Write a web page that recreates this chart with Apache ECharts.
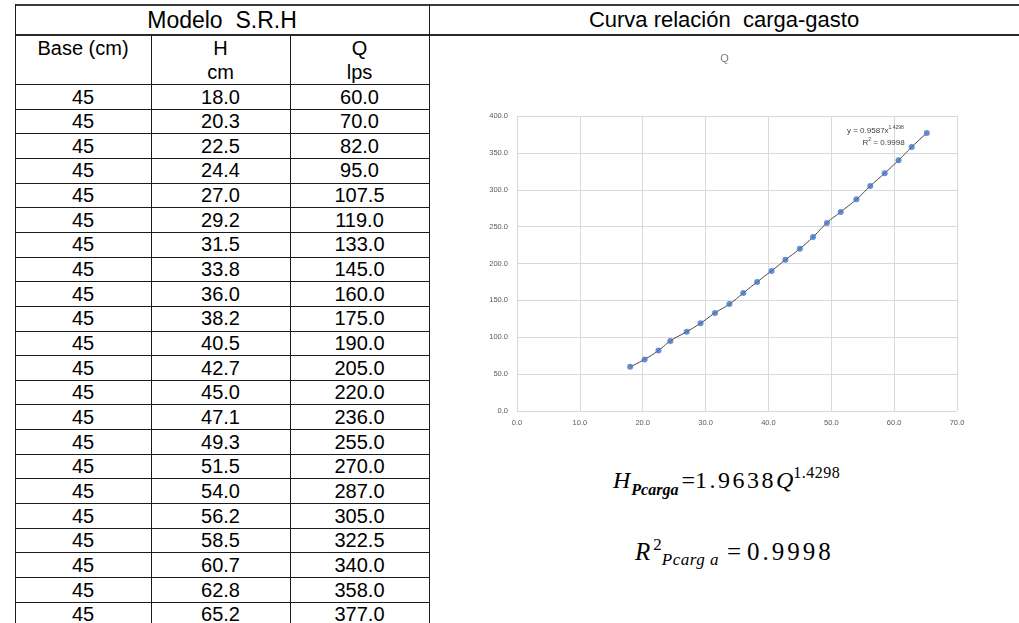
<!DOCTYPE html>
<html>
<head>
<meta charset="utf-8">
<script src="https://cdn.jsdelivr.net/npm/echarts@6/dist/echarts.min.js"></script>
<style>
html,body{margin:0;padding:0;background:#fff;}
body{width:1019px;height:623px;overflow:hidden;position:relative;font-family:"Liberation Sans",Arial,sans-serif;color:#000;}
.ln{position:absolute;background:#1a1a1a;}
.cell{position:absolute;text-align:center;font-size:20px;line-height:24px;white-space:pre;}
.serif{position:absolute;font-family:"Liberation Serif","Times New Roman",serif;white-space:nowrap;color:#000;}
</style>
</head>
<body>
<div id="page"></div>
<div id="chart" style="position:absolute;left:430px;top:37px;width:589px;height:420px"></div>

<div class="serif" style="left:613px;top:468px;font-size:24px;line-height:24px">
<i>H</i><i style="font-size:16px;font-weight:bold;position:relative;top:7px;margin-left:1px">Pcarga</i><span style="margin-left:3px">=</span><span style="letter-spacing:2.5px">1.9638</span><i>Q</i><span style="font-size:16px;position:relative;top:-10px;letter-spacing:0.5px">1.4298</span>
</div>
<div class="serif" style="left:635px;top:540px;font-size:25px;line-height:24px">
<i>R</i><span style="font-size:17px;position:relative;top:-10px;margin-left:3px">2</span><i style="font-size:17px;position:relative;top:5px;letter-spacing:0.5px">Pcarg a</i><span style="margin-left:8px">=</span><span style="margin-left:6px;letter-spacing:3px">0.9998</span>
</div>

<script>
// Modelo S.R.H
const baseCm = [45,45,45,45,45,45,45,45,45,45,45,45,45,45,45,45,45,45,45,45,45,45]
const hCm = [18.0,20.3,22.5,24.4,27.0,29.2,31.5,33.8,36.0,38.2,40.5,42.7,45.0,47.1,49.3,51.5,54.0,56.2,58.5,60.7,62.8,65.2]
const qLps = [60.0,70.0,82.0,95.0,107.5,119.0,133.0,145.0,160.0,175.0,190.0,205.0,220.0,236.0,255.0,270.0,287.0,305.0,322.5,340.0,358.0,377.0]
const xTicks = [0,10,20,30,40,50,60,70]
const yTicks = [0,50,100,150,200,250,300,350,400]

// tabla a la izquierda
const page = document.getElementById('page')
function line(x, y, w, h, color) {
    const d = document.createElement('div')
    d.className = 'ln'
    d.style.cssText = `left:${x}px;top:${y}px;width:${w}px;height:${h}px;` + (color ? `background:${color};` : '')
    page.appendChild(d)
}
function cell(x, y, w, txt, size) {
    const d = document.createElement('div')
    d.className = 'cell'
    d.style.cssText = `left:${x}px;top:${y}px;width:${w}px;` + (size ? `font-size:${size}px;` : '')
    d.textContent = txt
    page.appendChild(d)
}
const cols = [15, 151, 290, 429]
const rowTop = 84, rowH = 24.65

line(15, 4, 1004, 2, '#3a3a3a')
line(15, 34, 1004, 2, '#2a2a2a')
line(15, 4, 1, 619)
line(151, 35, 1, 588)
line(290, 35, 1, 588)
line(429, 4, 1, 619)
for (let i = 0; i <= baseCm.length; i++) line(15, Math.round(rowTop + i * rowH), 414, 1)

cell(15, 8, 414, 'Modelo  S.R.H', 23)
cell(429, 8, 590, 'Curva relación  carga-gasto', 22)
cell(15, 36, 136, 'Base (cm)')
cell(151, 36, 139, 'H\ncm')
cell(290, 36, 139, 'Q\nlps')
baseCm.forEach((b, i) => {
    const y = rowTop + i * rowH + 0.5
    cell(cols[0], y, 136, String(b))
    cell(cols[1], y, 139, hCm[i].toFixed(1))
    cell(cols[2], y, 139, qLps[i].toFixed(1))
})

// grafica
const pts = hCm.map((h, i) => [h, qLps[i]])
const chart = echarts.init(document.getElementById('chart'))
chart.setOption({
    animation: false,
    title: {
        text: 'Q', left: 'center', top: 11,
        textStyle: {fontSize: 11, fontWeight: 'normal', color: '#808080', fontFamily: 'Liberation Sans'}
    },
    grid: {left: 87, top: 79, width: 440, height: 295},
    xAxis: {
        type: 'value', min: xTicks[0], max: xTicks[xTicks.length - 1], interval: 10,
        axisLine: {show: false}, axisTick: {show: false},
        splitLine: {lineStyle: {color: '#d9d9d9'}},
        axisLabel: {fontSize: 7.5, color: '#595959', margin: 8, formatter: v => v.toFixed(1)}
    },
    yAxis: {
        type: 'value', min: yTicks[0], max: yTicks[yTicks.length - 1], interval: 50,
        axisLine: {show: false}, axisTick: {show: false},
        splitLine: {lineStyle: {color: '#d9d9d9'}},
        axisLabel: {fontSize: 7.5, color: '#595959', margin: 9, formatter: v => v.toFixed(1)}
    },
    series: [
        {
            type: 'line', data: pts, smooth: true, showSymbol: false, z: 1,
            lineStyle: {color: '#404040', width: 1}
        },
        {
            type: 'scatter', data: pts, symbolSize: 6, z: 2,
            itemStyle: {color: '#4472c4'}
        }
    ],
    graphic: [
        {
            type: 'text', left: 417, top: 88, z: 5,
            style: {
                text: 'y = 0.9587x{s|1.4298}\n       R{s|2} = 0.9998',
                fontSize: 8, lineHeight: 12, fill: '#404040', fontFamily: 'Liberation Sans',
                rich: {s: {fontSize: 5, verticalAlign: 'top', fill: '#404040'}}
            }
        }
    ]
})
</script>
</body>
</html>
